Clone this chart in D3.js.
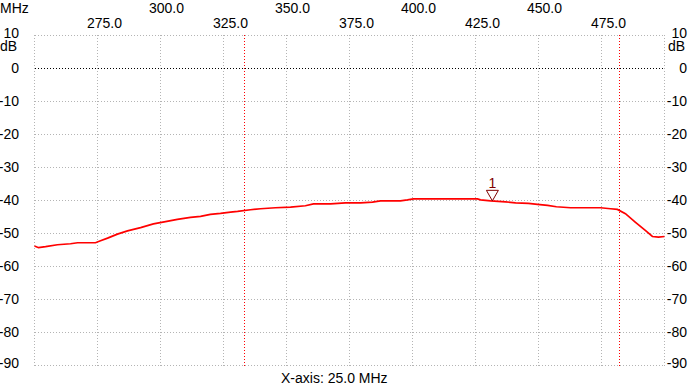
<!DOCTYPE html>
<html><head><meta charset="utf-8">
<script src="https://cdn.jsdelivr.net/npm/d3@7/dist/d3.min.js"></script>
<style>
html,body{margin:0;padding:0;background:#fff;}
svg text{font-family:"Liberation Sans",Arial,sans-serif;font-size:14px;fill:#000;}
</style></head>
<body><svg id="c" width="695" height="389"></svg>
<script>
// Data
const freqTicksTop = [300, 350, 400, 450];
const freqTicksBottom = [275, 325, 375, 425, 475];
const dbTicks = [10, 0, -10, -20, -30, -40, -50, -60, -70, -80, -90];
const freqGrid = [250, 275, 300, 325, 350, 375, 400, 425, 450, 475, 500];
const limitLines = [333.3, 482.0];
const traceFreq = [250.0, 251.6, 254.4, 259.1, 264.3, 267.1, 274.2, 276.2, 279.0, 282.9, 286.9, 292.1, 297.2, 302.0, 306.7, 311.9, 315.9, 319.8, 323.8, 327.8, 330.6, 335.7, 339.7, 345.6, 351.6, 357.5, 360.7, 367.5, 373.4, 379.4, 384.1, 387.3, 395.2, 398.0, 400.4, 411.1, 425.8, 427.0, 431.0, 436.9, 440.9, 446.0, 449.6, 453.6, 457.1, 462.7, 474.6, 478.6, 481.3, 484.5, 488.5, 492.5, 495.2, 497.6, 500.0];
const traceDb = [-53.8, -54.3, -54.0, -53.4, -53.1, -52.8, -52.8, -52.2, -51.4, -50.2, -49.2, -48.2, -47.1, -46.4, -45.7, -45.1, -44.8, -44.2, -43.9, -43.5, -43.3, -42.8, -42.5, -42.2, -42.0, -41.6, -41.0, -41.0, -40.7, -40.7, -40.5, -40.1, -40.1, -39.8, -39.5, -39.5, -39.5, -39.8, -40.1, -40.4, -40.7, -40.9, -41.2, -41.5, -41.9, -42.2, -42.2, -42.5, -42.7, -44.0, -46.6, -49.1, -50.9, -51.1, -50.9];
const markerFreq = [431.7];
const markerDb = [-40.1];
const markerLabels = ["1"];

const svg = d3.select("#c");
const x = d3.scaleLinear().domain([250, 500]).range([34.5, 664.5]);
const y = d3.scaleLinear().domain([10, -90]).range([35.5, 365.5]);
const px = v => Math.round(v - 0.5) + 0.5;

// grid
const g = svg.append("g").attr("shape-rendering", "crispEdges");
g.selectAll(".hg").data(dbTicks).join("line")
  .attr("x1", x(250)).attr("x2", x(500))
  .attr("y1", d => px(y(d))).attr("y2", d => px(y(d)))
  .attr("stroke", d => d === 0 ? "#000" : "#b4b4b4")
  .attr("stroke-dasharray", d => d === 0 ? "1,2" : "1,2")
  .attr("stroke-width", 1);
g.selectAll(".vg").data(freqGrid).join("line")
  .attr("x1", d => px(x(d))).attr("x2", d => px(x(d)))
  .attr("y1", y(10) - 0.5).attr("y2", y(-90) + 0.5)
  .attr("stroke", "#b4b4b4").attr("stroke-dasharray", "1,2");
g.selectAll(".ll").data(limitLines).join("line")
  .attr("x1", d => px(x(d))).attr("x2", d => px(x(d)))
  .attr("y1", y(10) - 0.5).attr("y2", y(-90) + 0.5)
  .attr("stroke", "#ff0000").attr("stroke-dasharray", "1,2");

// axis labels
svg.append("text").attr("x", 0).attr("y", 13).text("MHz");
svg.selectAll(".tt").data(freqTicksTop).join("text")
  .attr("x", d => x(d) - 11.5).attr("y", 13).text(d => d.toFixed(1));
svg.selectAll(".tb").data(freqTicksBottom).join("text")
  .attr("x", d => x(d) - 10.5).attr("y", 28).text(d => d.toFixed(1));

const dy = d => d === 10 ? 2.5 : (d === -90 ? 2 : 4.5);
svg.selectAll(".yl").data(dbTicks).join("text")
  .attr("x", 19).attr("y", d => y(d) + dy(d)).attr("text-anchor", "end").text(d => d);
svg.selectAll(".yr").data(dbTicks).join("text")
  .attr("x", 687).attr("y", d => y(d) + dy(d)).attr("text-anchor", "end").text(d => d);
svg.append("text").attr("x", 0).attr("y", 50.5).text("dB");
svg.append("text").attr("x", 668).attr("y", 50.5).text("dB");

svg.append("text").attr("x", 281).attr("y", 383).text("X-axis: 25.0 MHz");

// trace
const pts = traceFreq.map((f, i) => [f, traceDb[i]]);
svg.append("path").datum(pts)
  .attr("fill", "none").attr("stroke", "#ff0000").attr("stroke-width", 1.7)
  .attr("d", d3.line().x(d => x(d[0])).y(d => y(d[1])));

// marker
markerFreq.forEach((f, i) => {
  const mx = x(f), my = y(markerDb[i]);
  svg.append("path")
    .attr("d", `M${mx - 6},${my - 10.5}L${mx + 6},${my - 10.5}L${mx},${my}Z`)
    .attr("fill", "none").attr("stroke", "#800000").attr("stroke-width", 1);
  svg.append("text").attr("x", mx).attr("y", my - 13).attr("text-anchor", "middle")
    .style("fill", "#800000").text(markerLabels[i]);
});
</script></body></html>
